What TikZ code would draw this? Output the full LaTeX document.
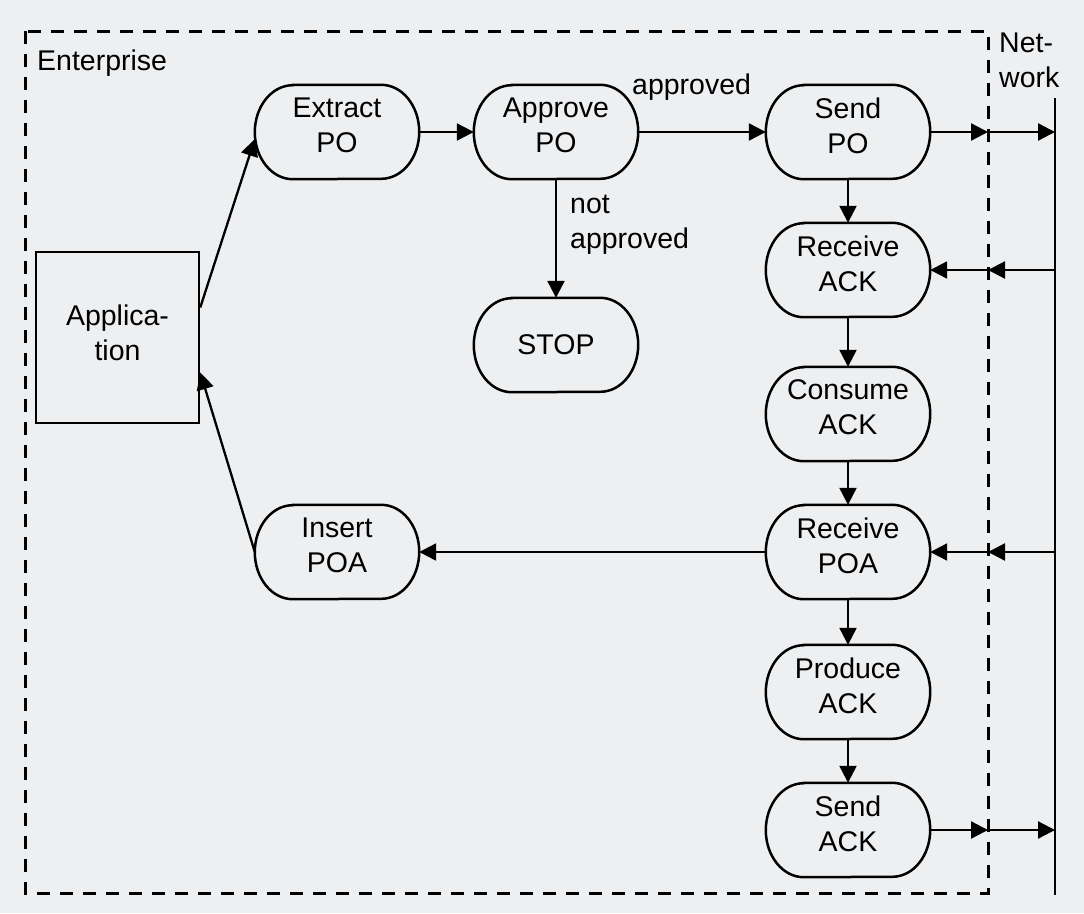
\documentclass[tikz,border=0pt]{standalone}
\usepackage{fontspec}
\setmainfont{Liberation Sans}
\usetikzlibrary{arrows.meta}
\definecolor{paper}{RGB}{238,239,241}
\newcommand\dn{\rule[-13pt]{0pt}{13pt}}
\begin{document}
\begin{tikzpicture}[x=1pt,y=-1pt,
  every node/.style={font=\fontsize{28.5}{35}\selectfont, inner sep=0pt},
  stadium/.style={minimum width=164pt, minimum height=94pt, align=center},
  arr/.style={line width=2.3pt, -{Triangle[length=17pt,width=17pt]}},
  border/.style={line width=2.5pt},
  ]
\fill[paper] (0,0) rectangle (1084,913);
\useasboundingbox (0,0) rectangle (1084,913);

% enterprise boundary and network line
\draw[line width=3pt, dash pattern=on 13pt off 10pt] (25,31) rectangle (988,893);
\coordinate (bdr) at (988,31);
\coordinate (nettop) at (1055,98);
\coordinate (netbot) at (1055,895);
\draw[line width=2.5pt] (nettop) -- (netbot);

\node[anchor=base west] (ent) at (37,70) {Enterprise};
\node[anchor=north west, align=left] (net) at (999,33) {Net-\\work};

% nodes
\node[stadium] (ext)  at (337,132) {Extract\\PO\dn};
\node[stadium] (apv)  at (556,132) {Approve\\PO\dn};
\node[stadium] (spo)  at (848,132) {Send\\PO\dn};
\node[stadium] (rack) at (848,270) {Receive\\ACK\dn};
\node[stadium] (cack) at (848,414) {Consume\\ACK\dn};
\node[stadium] (rpoa) at (848,552) {Receive\\POA\dn};
\node[stadium] (pack) at (848,692) {Produce\\ACK\dn};
\node[stadium] (sack) at (848,830) {Send\\ACK\dn};
\node[stadium] (stop) at (556,345) {STOP};
\node[stadium] (ins)  at (337,552) {Insert\\POA\dn};
\node[draw, border, minimum width=163pt, minimum height=171pt, align=center] (app) at (117.5,337.5) {Applica-\\tion\rule[-9pt]{0pt}{9pt}};

\foreach \n in {ext,apv,spo,rack,cack,rpoa,pack,sack,stop,ins}
  \draw[border] ([xshift=38pt]\n.north west) -- ([xshift=-38pt]\n.north east)
     arc[start angle=90, end angle=-90, x radius=38pt, y radius=47pt]
     -- ([xshift=38pt]\n.south west)
     arc[start angle=270, end angle=90, x radius=38pt, y radius=47pt] -- cycle;

% labels
\node[anchor=base west] (lapp) at (632,94) {approved};
\node[anchor=north west, align=left] (lnap) at (570,195) {not\\approved};

% connectors
\draw[arr] ([yshift=30pt]app.east) -- ([yshift=-7pt]ext.west);
\draw[arr] (ins.west) -- ([yshift=-35pt]app.east);
\draw[arr] (ext.east) -- (apv.west);
\draw[arr] (apv.east) -- (spo.west);
\draw[arr] (apv.south) -- (stop.north);
\draw[arr] (spo.south) -- (rack.north);
\draw[arr] (rack.south) -- (cack.north);
\draw[arr] (cack.south) -- (rpoa.north);
\draw[arr] (rpoa.south) -- (pack.north);
\draw[arr] (pack.south) -- (sack.north);
\draw[arr] (rpoa.west) -- (ins.east);

% network connectors
\draw[arr] (spo.east) -- (spo.east -| bdr);
\draw[arr] (spo.east -| bdr) -- (spo.east -| nettop);
\draw[arr] (rack.east -| nettop) -- (rack.east -| bdr);
\draw[arr] (rack.east -| bdr) -- (rack.east);
\draw[arr] (rpoa.east -| nettop) -- (rpoa.east -| bdr);
\draw[arr] (rpoa.east -| bdr) -- (rpoa.east);
\draw[arr] (sack.east) -- (sack.east -| bdr);
\draw[arr] (sack.east -| bdr) -- (sack.east -| nettop);
\end{tikzpicture}
\end{document}
